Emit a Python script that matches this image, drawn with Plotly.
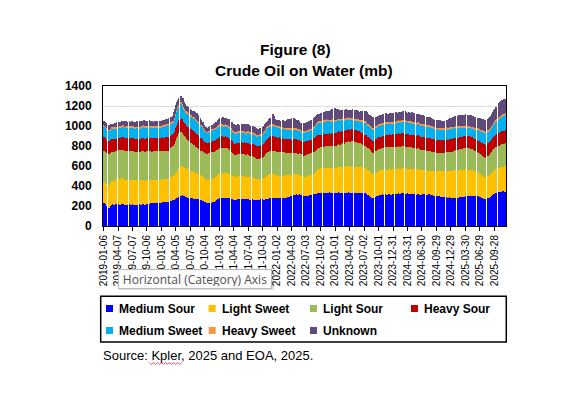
import math
import pandas as pd
import plotly.graph_objects as go

# ---------------- data (weekly, mb) ----------------
start_week = "2019-01-06"
n_weeks = 362
weeks = [d.strftime("%Y-%m-%d") for d in pd.date_range(start_week, periods=n_weeks, freq="7D")]
tick_labels = weeks[::13]

medium_sour = [
    232, 226, 218, 204, 190, 183, 198, 212, 216, 214, 220, 217, 222,
    219, 221, 214, 218, 223, 216, 212, 219, 215, 213, 218, 216, 214,
    217, 212, 215, 219, 215, 213, 220, 216, 214, 221, 218, 215, 219,
    222, 226, 224, 229, 230, 227, 233, 229, 231, 235, 233, 230, 236,
    234, 238, 236, 241, 239, 243, 240, 246, 250, 255, 260, 264, 270,
    276, 282, 292, 302, 308, 305, 310, 301, 300, 294, 288, 280, 283,
    277, 279, 276, 272, 278, 275, 276, 273, 270, 266, 260, 255, 248,
    240, 236, 231, 233, 230, 233, 235, 238, 244, 250, 258, 266, 275,
    279, 284, 283, 286, 280, 284, 288, 282, 283, 279, 276, 272, 270,
    264, 258, 262, 268, 272, 270, 266, 270, 273, 268, 271, 266, 269,
    266, 270, 264, 267, 271, 265, 266, 263, 260, 262, 264, 268, 266,
    268, 265, 270, 270, 274, 271, 278, 276, 280, 283, 285, 281, 284,
    283, 280, 285, 282, 283, 286, 284, 288, 285, 290, 290, 294, 300,
    305, 310, 312, 315, 318, 316, 313, 317, 312, 310, 304, 300, 306,
    302, 308, 305, 309, 312, 310, 316, 318, 325, 322, 328, 330, 327,
    332, 333, 336, 331, 335, 338, 332, 333, 336, 330, 334, 338, 332,
    333, 330, 335, 338, 331, 334, 336, 333, 330, 335, 339, 334, 336,
    332, 338, 335, 340, 336, 331, 334, 337, 333, 333, 336, 330, 334,
    332, 328, 330, 322, 310, 300, 292, 285, 283, 288, 292, 296, 300,
    305, 310, 312, 316, 318, 314, 317, 320, 315, 316, 318, 314, 319,
    321, 317, 320, 324, 322, 326, 323, 328, 330, 327, 331, 328, 325,
    326, 322, 318, 320, 323, 317, 320, 318, 314, 317, 320, 315, 312,
    316, 320, 317, 321, 318, 315, 318, 322, 313, 308, 310, 304, 302,
    300, 300, 296, 298, 292, 294, 290, 290, 287, 292, 284, 288, 286,
    285, 282, 288, 284, 286, 283, 285, 290, 287, 292, 290, 294, 295,
    298, 302, 297, 300, 304, 300, 298, 303, 300, 297, 302, 300, 296,
    292, 288, 285, 280, 275, 270, 268, 276, 284, 292, 300, 310, 318,
    325, 330, 333, 336, 338, 340, 344, 348, 346, 350, 345,
]

light_sweet = [
    205, 212, 216, 220, 226, 232, 230, 236, 235, 240, 246, 250, 256,
    260, 263, 258, 262, 255, 259, 252, 254, 249, 250, 253, 248, 251,
    247, 250, 244, 248, 245, 242, 247, 243, 246, 241, 245, 240, 244,
    240, 238, 241, 236, 235, 233, 230, 234, 229, 231, 228, 227, 230,
    226, 229, 231, 227, 232, 228, 230, 233, 236, 238, 240, 248, 258,
    268, 280, 285, 290, 292, 295, 291, 285, 280, 282, 285, 286, 283,
    280, 276, 274, 270, 266, 258, 254, 252, 255, 250, 250, 246, 238,
    230, 232, 229, 233, 236, 232, 235, 237, 236, 240, 242, 241, 245,
    247, 250, 250, 252, 248, 246, 250, 247, 247, 245, 242, 240, 238,
    236, 234, 232, 231, 233, 229, 230, 232, 228, 231, 230, 227, 229,
    229, 226, 222, 220, 217, 215, 214, 210, 206, 204, 205, 203, 204,
    210, 218, 224, 230, 233, 236, 238, 240, 237, 233, 232, 230, 228,
    227, 225, 226, 223, 222, 224, 221, 220, 222, 219, 220, 216, 212,
    209, 206, 204, 202, 201, 200, 196, 193, 191, 190, 192, 190, 194,
    193, 196, 195, 197, 198, 200, 202, 204, 212, 225, 232, 238, 242,
    245, 247, 246, 249, 248, 251, 250, 250, 248, 251, 253, 250, 252,
    252, 255, 253, 257, 258, 260, 261, 262, 260, 263, 262, 264, 266,
    263, 264, 265, 267, 263, 262, 260, 259, 258, 257, 256, 258, 255,
    254, 252, 253, 252, 250, 250, 245, 238, 233, 235, 237, 238, 240,
    243, 246, 248, 250, 252, 249, 251, 250, 248, 250, 252, 249, 247,
    248, 246, 246, 249, 247, 250, 248, 251, 250, 252, 249, 251, 250,
    248, 251, 250, 250, 252, 249, 251, 248, 250, 252, 250, 250, 247,
    245, 243, 241, 240, 238, 237, 237, 239, 241, 243, 245, 247, 249,
    250, 250, 252, 254, 256, 258, 259, 260, 262, 263, 265, 267, 268,
    270, 271, 272, 273, 274, 275, 275, 274, 273, 272, 271, 270, 270,
    268, 266, 265, 263, 262, 260, 258, 257, 255, 253, 252, 250, 246,
    240, 232, 225, 222, 220, 218, 217, 220, 223, 227, 230, 233, 236,
    238, 240, 242, 245, 247, 250, 250, 251, 249, 250, 255,
]

light_sour = [
    318, 312, 308, 305, 303, 301, 298, 294, 290, 288, 286, 284, 285,
    282, 283, 285, 281, 284, 286, 283, 287, 285, 284, 286, 283, 285,
    287, 284, 286, 283, 285, 288, 286, 284, 289, 287, 290, 286, 288,
    289, 286, 288, 290, 287, 285, 288, 286, 289, 287, 288, 290, 286,
    287, 285, 284, 286, 283, 285, 285, 288, 292, 296, 300, 310, 322,
    332, 340, 355, 370, 360, 340, 332, 326, 320, 310, 300, 294, 288,
    282, 276, 270, 268, 265, 262, 260, 255, 250, 245, 240, 245, 252,
    260, 263, 265, 267, 268, 270, 270, 268, 264, 260, 256, 252, 250,
    250, 251, 250, 252, 249, 250, 251, 248, 250, 245, 238, 230, 222,
    218, 216, 218, 217, 219, 221, 220, 222, 219, 221, 222, 220, 221,
    221, 219, 217, 215, 213, 212, 210, 206, 202, 200, 203, 207, 210,
    215, 220, 225, 230, 232, 233, 234, 236, 237, 239, 238, 236, 235,
    235, 236, 234, 235, 235, 233, 231, 229, 227, 225, 224, 222, 220,
    218, 217, 218, 216, 217, 217, 216, 218, 215, 216, 217, 215, 216,
    217, 215, 216, 218, 217, 219, 220, 220, 218, 216, 214, 212, 211,
    210, 210, 212, 213, 215, 216, 217, 217, 216, 215, 216, 214, 215,
    215, 217, 220, 223, 226, 228, 230, 232, 235, 238, 241, 244, 247,
    249, 250, 250, 249, 247, 245, 243, 241, 240, 238, 234, 229, 224,
    220, 218, 217, 218, 219, 220, 219, 218, 217, 218, 219, 220, 220,
    219, 218, 217, 217, 218, 219, 220, 222, 223, 224, 225, 226, 227,
    228, 229, 229, 228, 226, 225, 223, 222, 220, 221, 220, 219, 220,
    221, 220, 220, 220, 218, 216, 214, 212, 210, 208, 206, 205, 204,
    202, 201, 200, 199, 197, 196, 195, 194, 192, 191, 189, 188, 186,
    185, 185, 184, 184, 183, 183, 183, 184, 185, 186, 187, 188, 189,
    190, 192, 194, 196, 198, 200, 200, 203, 206, 209, 212, 214, 215,
    215, 216, 215, 215, 214, 215, 213, 208, 203, 198, 193, 190, 192,
    195, 198, 200, 200, 200, 200, 200, 202, 205, 208, 210, 213, 216,
    218, 220, 220, 221, 220, 220, 222, 223, 224, 225, 235,
]

heavy_sour = [
    133, 136, 134, 135, 137, 134, 131, 132, 130, 126, 124, 121, 120,
    119, 119, 122, 125, 127, 128, 130, 129, 131, 130, 128, 131, 130,
    129, 131, 130, 128, 130, 132, 131, 129, 133, 131, 130, 133, 132,
    131, 134, 132, 133, 133, 135, 131, 132, 130, 133, 131, 132, 134,
    132, 135, 133, 136, 134, 135, 135, 130, 124, 118, 116, 120, 126,
    128, 130, 126, 123, 128, 135, 134, 132, 133, 131, 130, 130, 134,
    137, 139, 140, 138, 136, 133, 130, 131, 132, 134, 133, 125, 117,
    110, 105, 102, 100, 102, 104, 105, 107, 108, 110, 112, 113, 115,
    116, 117, 117, 116, 115, 117, 116, 114, 115, 116, 115, 117, 116,
    117, 117, 116, 115, 116, 114, 115, 116, 115, 117, 116, 115, 117,
    117, 118, 120, 121, 123, 124, 125, 128, 131, 134, 133, 131, 130,
    130, 130, 130, 130, 135, 140, 145, 150, 151, 150, 149, 147, 145,
    145, 143, 142, 141, 140, 139, 138, 137, 136, 135, 135, 134, 134,
    133, 133, 134, 133, 132, 133, 134, 133, 135, 134, 133, 134, 135,
    134, 133, 135, 134, 136, 137, 138, 140, 140, 139, 136, 132, 129,
    127, 126, 125, 126, 125, 124, 125, 125, 127, 128, 130, 131, 132,
    133, 132, 130, 128, 127, 126, 125, 125, 124, 122, 121, 120, 118,
    117, 117, 116, 117, 118, 119, 119, 120, 120, 120, 119, 118, 117,
    117, 116, 116, 114, 112, 110, 112, 115, 117, 118, 119, 119, 120,
    119, 118, 118, 117, 117, 118, 118, 119, 120, 120, 121, 122, 123,
    124, 124, 125, 126, 127, 128, 129, 129, 130, 129, 128, 128, 127,
    126, 126, 125, 125, 126, 127, 127, 128, 129, 129, 130, 130, 130,
    130, 131, 130, 130, 131, 130, 130, 130, 131, 130, 130, 130, 130,
    130, 130, 129, 129, 128, 128, 127, 127, 126, 126, 126, 125, 125,
    125, 125, 125, 125, 125, 125, 125, 124, 123, 122, 121, 120, 120,
    120, 120, 120, 120, 120, 120, 120, 120, 120, 120, 120, 120, 121,
    122, 123, 125, 127, 128, 129, 130, 128, 125, 122, 120, 120, 120,
    120, 120, 122, 125, 128, 130, 130, 130, 130, 130, 125,
]

medium_sweet = [
    108, 106, 104, 105, 102, 100, 102, 104, 105, 103, 101, 100, 99,
    100, 100, 102, 101, 103, 104, 103, 105, 104, 105, 106, 104, 105,
    105, 106, 104, 105, 105, 106, 107, 106, 108, 107, 108, 109, 108,
    107, 106, 105, 104, 103, 103, 104, 104, 105, 104, 105, 105, 107,
    109, 111, 113, 115, 117, 119, 120, 119, 118, 117, 117, 122, 130,
    136, 140, 134, 127, 134, 141, 132, 124, 117, 121, 126, 130, 126,
    123, 121, 120, 123, 126, 128, 130, 127, 123, 120, 117, 112, 108,
    105, 104, 103, 102, 104, 107, 110, 110, 110, 110, 110, 110, 110,
    109, 107, 105, 105, 106, 105, 105, 104, 105, 104, 103, 102, 101,
    100, 100, 101, 100, 100, 99, 100, 100, 101, 100, 99, 100, 100,
    100, 101, 100, 99, 100, 100, 100, 100, 99, 100, 100, 100, 100,
    103, 106, 108, 110, 107, 104, 101, 100, 100, 100, 100, 101, 100,
    100, 99, 98, 96, 95, 95, 96, 96, 96, 96, 97, 98, 99,
    100, 100, 100, 101, 100, 100, 98, 95, 92, 90, 91, 92, 93,
    94, 95, 95, 96, 97, 98, 99, 100, 105, 111, 115, 119, 122,
    124, 124, 125, 125, 124, 125, 126, 125, 123, 122, 121, 119, 118,
    117, 116, 115, 114, 113, 112, 111, 110, 109, 108, 106, 105, 104,
    102, 101, 100, 100, 100, 100, 100, 100, 100, 100, 103, 107, 111,
    114, 116, 117, 116, 116, 115, 115, 116, 116, 116, 115, 115, 115,
    115, 116, 116, 116, 116, 115, 115, 115, 115, 115, 114, 113, 112,
    111, 111, 110, 110, 111, 112, 113, 114, 115, 116, 117, 118, 119,
    119, 120, 120, 120, 120, 119, 118, 117, 116, 115, 115, 115, 115,
    115, 115, 115, 115, 115, 115, 115, 114, 112, 110, 108, 107, 106,
    105, 105, 105, 106, 106, 106, 106, 106, 106, 106, 105, 105, 105,
    105, 104, 103, 102, 101, 100, 100, 97, 94, 91, 89, 87, 85,
    85, 85, 85, 85, 85, 85, 87, 90, 93, 97, 100, 103, 106,
    108, 109, 110, 111, 112, 114, 115, 116, 118, 119, 120, 123, 126,
    128, 130, 133, 136, 138, 140, 143, 146, 148, 150, 150,
]

heavy_sweet = [
    14, 13, 13, 13, 12, 12, 13, 14, 14, 15, 15, 14, 15,
    15, 15, 16, 15, 14, 15, 15, 16, 15, 15, 14, 15, 15,
    15, 16, 15, 14, 15, 15, 16, 15, 15, 14, 15, 15, 16,
    15, 15, 14, 15, 15, 16, 15, 15, 14, 15, 15, 16, 15,
    15, 14, 15, 15, 16, 15, 15, 15, 16, 16, 16, 17, 17,
    18, 18, 19, 20, 20, 20, 19, 19, 18, 17, 17, 16, 16,
    16, 15, 15, 15, 15, 16, 15, 15, 15, 15, 15, 14, 14,
    13, 13, 13, 13, 13, 14, 14, 14, 15, 15, 15, 15, 15,
    16, 16, 16, 15, 15, 15, 15, 15, 14, 15, 15, 16, 15,
    15, 14, 15, 15, 16, 15, 15, 14, 15, 15, 16, 15, 15,
    15, 15, 14, 15, 15, 16, 15, 14, 14, 14, 14, 14, 14,
    14, 15, 15, 16, 15, 15, 15, 15, 16, 16, 16, 15, 15,
    15, 14, 15, 15, 16, 15, 15, 14, 15, 15, 16, 15, 15,
    15, 15, 16, 15, 15, 14, 15, 14, 14, 14, 14, 15, 14,
    14, 14, 15, 14, 15, 15, 16, 15, 15, 15, 16, 15, 15,
    15, 16, 15, 15, 14, 15, 16, 15, 15, 16, 15, 15, 14,
    15, 15, 16, 15, 15, 14, 15, 15, 16, 15, 15, 14, 15,
    15, 16, 15, 15, 14, 15, 15, 16, 15, 15, 15, 14, 15,
    15, 16, 15, 15, 14, 15, 15, 16, 15, 15, 14, 15, 15,
    15, 16, 15, 14, 15, 15, 16, 15, 15, 14, 15, 15, 16,
    15, 15, 14, 15, 15, 16, 15, 15, 14, 15, 15, 16, 15,
    15, 14, 15, 15, 16, 15, 15, 14, 15, 15, 16, 15, 15,
    15, 16, 15, 14, 15, 15, 16, 15, 15, 14, 15, 15, 15,
    14, 15, 15, 14, 14, 15, 14, 15, 15, 14, 15, 15, 15,
    15, 16, 15, 15, 14, 15, 15, 16, 15, 15, 14, 15, 15,
    16, 15, 15, 14, 15, 15, 16, 15, 15, 14, 15, 15, 16,
    15, 15, 15, 16, 15, 15, 15, 16, 16, 15, 16, 16, 17,
    17, 17, 18, 18, 18, 19, 19, 20, 20, 20, 20,
]

unknown = [
    42, 38, 34, 30, 36, 33, 38, 32, 30, 36, 40, 35, 42,
    38, 44, 40, 36, 42, 45, 39, 43, 37, 41, 46, 40, 44,
    48, 42, 50, 46, 52, 47, 44, 53, 49, 46, 52, 55, 48,
    51, 46, 53, 48, 45, 50, 44, 49, 52, 46, 43, 48, 45,
    50, 44, 47, 42, 48, 45, 43, 49, 46, 52, 50, 55, 50,
    53, 50, 48, 52, 58, 64, 60, 56, 52, 48, 54, 50, 47,
    53, 58, 55, 60, 57, 62, 66, 60, 56, 50, 45, 40, 36,
    32, 36, 33, 35, 38, 40, 42, 39, 44, 45, 48, 46, 50,
    54, 58, 62, 60, 56, 62, 59, 63, 60, 64, 62, 66, 63,
    68, 65, 70, 64, 67, 62, 66, 65, 70, 66, 63, 69, 67,
    68, 64, 66, 61, 63, 58, 60, 56, 54, 52, 50, 53, 51,
    48, 46, 45, 44, 48, 52, 55, 60, 75, 95, 82, 65, 58,
    55, 58, 62, 60, 58, 64, 70, 68, 74, 80, 84, 88, 95,
    98, 102, 96, 88, 82, 79, 84, 80, 76, 81, 78, 74, 77,
    72, 76, 74, 79, 82, 78, 84, 85, 80, 69, 72, 76, 70,
    75, 73, 78, 82, 76, 84, 80, 85, 88, 94, 100, 108, 114,
    118, 110, 102, 95, 88, 84, 82, 80, 84, 78, 82, 79, 76,
    80, 77, 79, 82, 78, 84, 80, 86, 85, 82, 88, 92, 96,
    100, 98, 102, 104, 100, 100, 98, 101, 102, 96, 92, 88, 85,
    88, 84, 86, 85, 82, 87, 84, 88, 85, 86, 83, 88, 90,
    86, 88, 88, 91, 87, 85, 89, 86, 85, 88, 84, 86, 82,
    80, 84, 81, 80, 83, 79, 82, 86, 84, 87, 85, 83, 82,
    84, 80, 82, 78, 81, 79, 80, 77, 79, 76, 78, 74, 77,
    75, 73, 75, 71, 72, 70, 70, 72, 74, 78, 82, 86, 88,
    90, 94, 96, 98, 100, 100, 104, 102, 106, 108, 106, 110, 110,
    112, 114, 116, 113, 115, 115, 112, 110, 108, 105, 107, 105, 104,
    106, 108, 110, 112, 113, 115, 115, 112, 108, 105, 104, 108, 110,
    113, 118, 124, 132, 138, 142, 145, 147, 145, 145, 145,
]

series_names = ["Medium Sour", "Light Sweet", "Light Sour", "Heavy Sour",
                "Medium Sweet", "Heavy Sweet", "Unknown"]
series_values = [medium_sour, light_sweet, light_sour, heavy_sour,
                 medium_sweet, heavy_sweet, unknown]
series_colors = ["#0000FF", "#FFC000", "#9BBB59", "#C00000",
                 "#00B0F0", "#F79646", "#604A7B"]

for v in series_values:
    assert len(v) == n_weeks, len(v)

y_ticks = [0, 200, 400, 600, 800, 1000, 1200, 1400]

# ---------------- layout helpers ----------------
W, H = 588, 396
L, R, T, B = 95, 498, 78, 218  # plot area in pixels


def px_x(p):
    return (p - L) / (R - L)


def px_y(p):
    return (B - p) / (B - T)


FONT = "Liberation Sans, Arial, sans-serif"

fig = go.Figure()
for name, vals, col in zip(series_names, series_values, series_colors):
    fig.add_trace(go.Bar(x=weeks, y=vals, name=name, marker_color=col,
                         marker_line_width=0, showlegend=False))

fig.update_layout(
    width=W, height=H,
    margin=dict(l=L, r=W - R, t=T, b=H - B, pad=0),
    paper_bgcolor="white", plot_bgcolor="white",
    barmode="stack", bargap=0,
    font=dict(family=FONT, color="black"),
    showlegend=False,
)
fig.update_xaxes(
    type="category", tickmode="array", tickvals=tick_labels, ticktext=tick_labels,
    tickangle=-90, tickfont=dict(size=10, color="black", family=FONT),
    ticks="outside", ticklen=4, tickcolor="black", tickwidth=1,
    showline=True, linecolor="black", linewidth=1, mirror=True,
    showgrid=False, range=[-0.5, n_weeks - 0.5],
)
fig.update_yaxes(
    range=[0, 1400], tickvals=y_ticks, ticks="",
    tickfont=dict(size=12, color="black", family=FONT, weight="bold"),
    showline=True, linecolor="black", linewidth=1, mirror=True,
    showgrid=True, gridcolor="#d9d9d9", gridwidth=1, ticklabelstandoff=8,
)

ann = []
# titles
ann.append(dict(text="Figure (8)", x=px_x(287), y=px_y(41), xref="paper", yref="paper",
                showarrow=False, xanchor="center", yanchor="middle",
                font=dict(size=15.5, family=FONT, weight="bold", color="black")))
ann.append(dict(text="Crude Oil on Water (mb)", x=px_x(296), y=px_y(63), xref="paper", yref="paper",
                showarrow=False, xanchor="center", yanchor="middle",
                font=dict(size=15.5, family=FONT, weight="bold", color="black")))

shapes = []
# thin white seams between columns (as rendered in the original column chart)
seam = 99.7
while seam < R - 2:
    xs = math.floor(seam) + 0.5
    shapes.append(dict(type="line", xref="paper", yref="y", layer="above",
                       x0=px_x(xs), x1=px_x(xs), y0=0, y1=1390,
                       line=dict(color="white", width=1)))
    seam += 10.25

# legend box
shapes.append(dict(type="rect", xref="paper", yref="paper",
                   x0=px_x(92.7), x1=px_x(498.3), y0=px_y(334), y1=px_y(288.3),
                   line=dict(color="black", width=1.5), fillcolor="rgba(0,0,0,0)"))
leg_cols = [98, 200.7, 302, 403]
leg_rows = [300.5, 322.5]
for i, (name, col) in enumerate(zip(series_names, series_colors)):
    r, c = divmod(i, 4)
    mx, my = leg_cols[c], leg_rows[r]
    shapes.append(dict(type="rect", xref="paper", yref="paper",
                       x0=px_x(mx), x1=px_x(mx + 7), y0=px_y(my + 3.5), y1=px_y(my - 3.5),
                       line=dict(width=0), fillcolor=col))
    ann.append(dict(text=name, x=px_x(mx + 11.3), y=px_y(my), xref="paper", yref="paper",
                    showarrow=False, xanchor="left", yanchor="middle",
                    font=dict(size=12, family=FONT, weight="bold", color="black")))

# source note
ann.append(dict(text="Source: Kpler, 2025 and EOA, 2025.", x=px_x(92.7), y=px_y(347.5),
                xref="paper", yref="paper", showarrow=False, xanchor="left", yanchor="middle",
                font=dict(size=13, family=FONT, color="black")))
# spell-check squiggle under "Kpler"
zz = []
xx = 141.5
k = 0
while xx <= 174:
    zz.append(f"{px_x(xx):.5f},{px_y(355.5 + (0.8 if k % 2 else -0.8)):.5f}")
    xx += 2
    k += 1
shapes.append(dict(type="path", xref="paper", yref="paper", path="M" + " L".join(zz),
                   line=dict(color="#e03030", width=0.8)))

# Excel tooltip overlay
shapes.append(dict(type="rect", xref="paper", yref="paper",
                   x0=px_x(111), x1=px_x(266), y0=px_y(282), y1=px_y(264),
                   line=dict(width=0), fillcolor="rgba(0,0,0,0.12)"))
ann.append(dict(text="Horizontal (Category) Axis", x=px_x(186.5), y=px_y(271), xref="paper", yref="paper",
                showarrow=False, xanchor="center", yanchor="middle", width=148, height=14,
                bgcolor="#fcfcfc", bordercolor="#b8b8b8", borderwidth=1, borderpad=2,
                font=dict(size=12, family="Open Sans, sans-serif", color="#505050")))

fig.update_layout(annotations=ann, shapes=shapes)
fig.write_html("out.html")
